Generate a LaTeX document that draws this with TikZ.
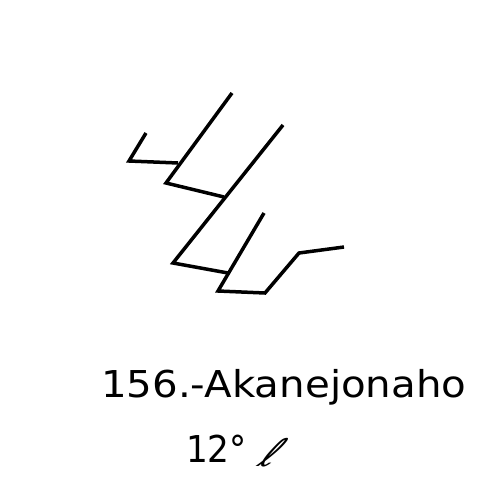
\documentclass[tikz,border=0pt]{standalone}
\usepackage{fontspec}
\setmainfont{DejaVu Sans}
\begin{document}
\begin{tikzpicture}[x=1pt,y=-1pt,
  stroke/.style={line width=3.5pt,line join=miter,line cap=butt,black},
  lbl/.style={inner sep=0pt,font=\fontsize{37}{40}\selectfont,xscale=1.09}]
\useasboundingbox (0,0) rectangle (500,500);
\coordinate (a1) at (146,133);
\coordinate (a2) at (129,161);
\coordinate (a3) at (178,163);
\coordinate (b1) at (232,93);
\coordinate (b2) at (166,183);
\coordinate (b3) at (224,197);
\coordinate (c1) at (283,125);
\coordinate (c2) at (173,263);
\coordinate (c3) at (228,273);
\coordinate (d1) at (264,213);
\coordinate (d2) at (218,291);
\coordinate (d3) at (265,293);
\coordinate (d4) at (299,253);
\coordinate (d5) at (344,247);
\draw[stroke] (a1) -- (a2) -- (a3);
\draw[stroke] (b1) -- (b2) -- (b3);
\draw[stroke] (c1) -- (c2) -- (c3);
\draw[stroke] (d1) -- (d2) -- (d3) -- (d4) -- (d5);
\node[lbl,anchor=base west] (title) at (101,397) {156.-Akanejonaho};
\node[lbl,anchor=base west,xscale=0.85] (deg) at (186,462) {12°};
\node[inner sep=0pt,anchor=base west,font=\fontsize{38}{40}\selectfont,xslant=0.7] (ell) at (256,466) {ℓ};
\end{tikzpicture}
\end{document}
